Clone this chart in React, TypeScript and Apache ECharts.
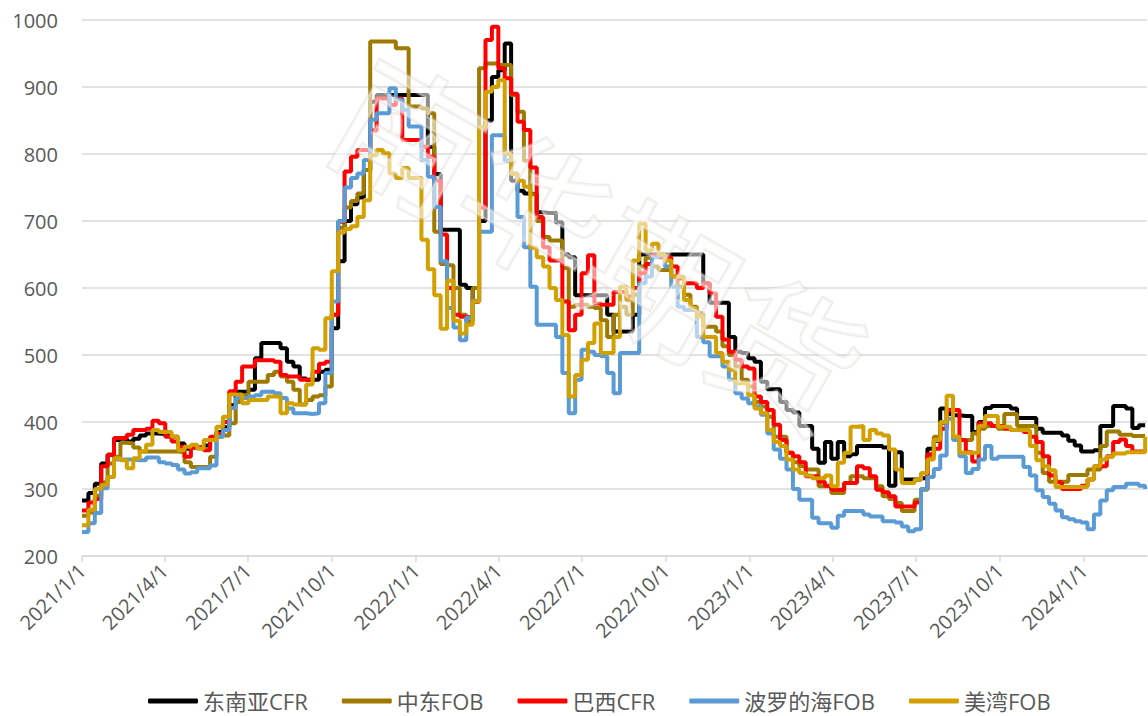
import React, { useEffect, useRef } from "react";
import * as echarts from "echarts";

const seriesNames = ["东南亚CFR", "中东FOB", "巴西CFR", "波罗的海FOB", "美湾FOB"];
const seriesColors = ["#000000", "#9E7B00", "#FF0000", "#5B9BD5", "#D2A100"];
const quarterLabels = [
  "2021/1/1", "2021/4/1", "2021/7/1", "2021/10/1", "2022/1/1", "2022/4/1", "2022/7/1",
  "2022/10/1", "2023/1/1", "2023/4/1", "2023/7/1", "2023/10/1", "2024/1/1",
];
const yTicks = [200, 300, 400, 500, 600, 700, 800, 900, 1000];

// weekly observations starting 2021/1/1
const seAsiaCFR = [
  283, 294, 308, 338, 351, 373, 375, 371, 375, 380,
  383, 383, 382, 380, 378, 368, 360, 362, 362, 365,
  375, 385, 392, 425, 445, 445, 448, 495, 518, 518,
  518, 510, 490, 483, 465, 463, 463, 475, 478, 540,
  640, 700, 725, 735, 776, 878, 888, 888, 888, 888,
  888, 888, 888, 888, 811, 770, 687, 687, 687, 605,
  600, 580, 700, 850, 915, 925, 965, 760, 745, 741,
  740, 713, 712, 712, 698, 650, 646, 589, 589, 589,
  589, 589, 560, 535, 535, 535, 560, 650, 650, 650,
  650, 650, 650, 650, 650, 650, 650, 607, 578, 578,
  578, 527, 505, 503, 495, 490, 460, 449, 449, 430,
  418, 414, 394, 394, 360, 339, 370, 345, 370, 349,
  352, 364, 364, 364, 364, 362, 305, 355, 314, 314,
  314, 316, 360, 372, 420, 412, 410, 409, 409, 385,
  400, 421, 424, 424, 424, 420, 406, 406, 406, 390,
  384, 384, 384, 380, 372, 365, 356, 356, 358, 394,
  394, 424, 424, 420, 391, 395, 396,
];
const midEastFOB = [
  260, 265, 290, 310, 338, 348, 369, 368, 362, 356,
  356, 356, 356, 356, 356, 355, 340, 333, 333, 333,
  348, 378, 380, 398, 430, 440, 460, 460, 460, 470,
  475, 468, 460, 448, 426, 433, 438, 440, 453, 560,
  690, 720, 730, 741, 776, 968, 968, 968, 968, 958,
  958, 871, 871, 868, 861, 684, 636, 634, 600, 560,
  550, 600, 928, 935, 935, 933, 933, 888, 863, 790,
  740, 700, 676, 671, 671, 630, 572, 575, 575, 572,
  570, 552, 527, 560, 572, 560, 590, 632, 645, 632,
  627, 627, 617, 602, 590, 572, 562, 542, 542, 535,
  513, 500, 483, 463, 453, 430, 423, 408, 378, 378,
  354, 340, 334, 329, 329, 304, 304, 294, 294, 309,
  319, 319, 316, 316, 304, 289, 285, 279, 267, 267,
  284, 299, 349, 378, 398, 418, 378, 373, 373, 383,
  390, 394, 394, 390, 412, 412, 394, 394, 394, 354,
  324, 311, 311, 311, 321, 321, 321, 329, 329, 364,
  386, 386, 381, 381, 379, 379, 379,
];
const brazilCFR = [
  268, 280, 285, 334, 351, 376, 376, 381, 388, 388,
  390, 402, 398, 378, 371, 363, 348, 362, 362, 358,
  378, 382, 400, 446, 460, 483, 483, 492, 492, 492,
  490, 470, 468, 468, 463, 463, 475, 487, 490, 560,
  699, 774, 796, 806, 806, 835, 883, 883, 873, 883,
  821, 821, 821, 811, 796, 760, 680, 600, 560, 557,
  556, 580, 720, 970, 990, 928, 913, 890, 848, 836,
  780, 706, 661, 641, 641, 580, 537, 560, 622, 649,
  577, 575, 575, 594, 594, 587, 600, 622, 636, 649,
  646, 646, 632, 614, 607, 607, 600, 607, 592, 557,
  523, 505, 493, 483, 480, 438, 430, 418, 396, 373,
  354, 349, 340, 319, 319, 311, 305, 299, 299, 309,
  309, 334, 331, 319, 299, 295, 289, 274, 274, 274,
  280, 300, 352, 360, 390, 418, 418, 373, 355, 341,
  398, 398, 394, 394, 390, 388, 388, 385, 378, 370,
  349, 320, 310, 300, 300, 300, 305, 314, 334, 334,
  349, 370, 374, 364, 356, 356, 356,
];
const balticFOB = [
  236, 249, 264, 301, 318, 344, 344, 344, 343, 343,
  347, 347, 340, 338, 336, 329, 323, 325, 331, 331,
  335, 378, 388, 421, 436, 436, 438, 440, 445, 445,
  443, 436, 420, 413, 413, 412, 413, 428, 473, 580,
  700, 750, 764, 771, 791, 851, 861, 861, 898, 881,
  866, 841, 841, 791, 766, 721, 640, 570, 541, 522,
  556, 581, 684, 684, 828, 828, 790, 771, 706, 661,
  602, 545, 545, 545, 527, 473, 413, 463, 508, 505,
  500, 498, 473, 443, 503, 503, 503, 607, 617, 646,
  649, 632, 602, 572, 567, 567, 527, 519, 498, 498,
  483, 463, 443, 435, 428, 423, 411, 383, 359, 345,
  329, 300, 284, 284, 257, 249, 249, 242, 260, 267,
  267, 267, 262, 259, 259, 252, 252, 250, 244, 237,
  240, 300, 318, 330, 350, 405, 373, 349, 324, 330,
  344, 364, 345, 348, 348, 348, 348, 333, 320, 298,
  288, 278, 268, 258, 255, 252, 250, 240, 262, 283,
  298, 303, 303, 308, 308, 305, 300,
];
const usGulfFOB = [
  246, 269, 300, 306, 318, 346, 343, 331, 346, 356,
  366, 388, 385, 385, 378, 358, 363, 366, 360, 373,
  373, 393, 408, 441, 441, 428, 433, 433, 433, 438,
  438, 413, 428, 426, 426, 456, 510, 508, 555, 625,
  683, 688, 692, 706, 731, 798, 806, 801, 771, 764,
  779, 764, 764, 672, 628, 589, 539, 611, 551, 532,
  545, 580, 840, 893, 900, 910, 800, 770, 760, 751,
  660, 646, 632, 600, 582, 530, 438, 470, 493, 518,
  547, 503, 503, 527, 602, 582, 641, 696, 656, 666,
  650, 641, 617, 617, 582, 570, 557, 527, 527, 503,
  490, 478, 458, 458, 440, 420, 413, 388, 370, 364,
  344, 329, 324, 320, 316, 316, 320, 304, 339, 354,
  393, 394, 373, 388, 383, 380, 359, 329, 309, 309,
  314, 324, 344, 373, 400, 439, 378, 354, 354, 354,
  394, 409, 409, 393, 393, 388, 388, 388, 364, 343,
  334, 328, 303, 303, 303, 303, 303, 314, 334, 344,
  348, 353, 353, 355, 355, 355, 378,
];

const allSeries = [seAsiaCFR, midEastFOB, brazilCFR, balticFOB, usGulfFOB];

const parseDay = (s: string) => {
  const [y, m, d] = s.split("/").map(Number);
  return new Date(y, m - 1, d).getTime();
};
const weekDates = seAsiaCFR.map((_, i) => new Date(2021, 0, 1 + 7 * i).getTime());
const quarterValues = quarterLabels.map(parseDay);
const xMin = parseDay("2021/1/1");
const xMax = parseDay("2024/3/10");

const FONT = '"Open Sans", "Noto Sans CJK SC", sans-serif';

export default function App() {
  const ref = useRef<HTMLDivElement>(null);
  useEffect(() => {
    if (!ref.current) return;
    const chart = echarts.init(ref.current, undefined, { renderer: "svg" });
    chart.setOption({
      animation: false,
      backgroundColor: "#ffffff",
      grid: { left: 82, right: 1, top: 20, height: 536 },
      legend: {
        left: 148,
        top: 689,
        padding: 0,
        icon: "roundRect",
        itemWidth: 50,
        itemHeight: 5,
        itemGap: 34,
        textStyle: { fontSize: 22, lineHeight: 24, color: "#595959", fontFamily: FONT },
        data: seriesNames,
      },
      xAxis: {
        type: "value",
        min: xMin,
        max: xMax,
        splitLine: { show: false },
        axisLine: { lineStyle: { color: "#D9D9D9", width: 1.5 } },
        axisTick: {
          customValues: quarterValues,
          length: 6,
          lineStyle: { color: "#D9D9D9", width: 1.5 },
        },
        axisLabel: {
          customValues: quarterValues,
          rotate: 45,
          margin: 11,
          fontSize: 20,
          color: "#595959",
          fontFamily: FONT,
          formatter: (v: number) => {
            const d = new Date(v);
            return `${d.getFullYear()}/${d.getMonth() + 1}/${d.getDate()}`;
          },
        },
      },
      yAxis: {
        type: "value",
        min: yTicks[0],
        max: yTicks[yTicks.length - 1],
        interval: 100,
        axisLine: { show: false },
        axisTick: { show: false },
        splitLine: { lineStyle: { color: "#D9D9D9", width: 1.5 } },
        axisLabel: {
          fontSize: 20,
          color: "#595959",
          fontFamily: FONT,
          margin: 24,
          formatter: (v: number) => String(v),
        },
      },
      graphic: [
        {
          type: "text",
          x: 602,
          y: 238,
          rotation: -0.52,
          silent: true,
          z: 100,
          style: {
            text: "南华期货",
            fontSize: 145,
            fontFamily: '"Noto Sans CJK SC", sans-serif',
            align: "center",
            verticalAlign: "middle",
            fill: "rgba(255,255,255,0.55)",
            stroke: "rgba(215,205,198,0.4)",
            lineWidth: 3,
            shadowColor: "rgba(150,130,115,0.35)",
            shadowBlur: 8,
            shadowOffsetX: 4,
            shadowOffsetY: 4,
          },
        },
      ],
      series: allSeries.map((arr, k) => ({
        name: seriesNames[k],
        type: "line",
        step: "end",
        symbol: "none",
        showSymbol: false,
        color: seriesColors[k],
        lineStyle: { width: 4, color: seriesColors[k] },
        data: weekDates.map((t, i) => [t, arr[i]]),
      })),
    });
    return () => chart.dispose();
  }, []);
  return (
    <div
      ref={ref}
      style={{ position: "absolute", left: 0, top: 0, width: 1148, height: 716 }}
    />
  );
}
